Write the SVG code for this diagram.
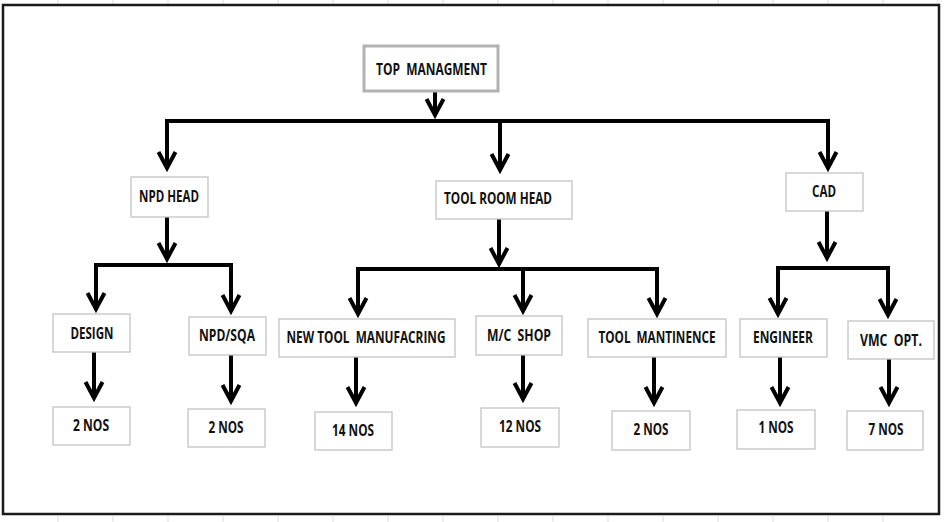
<svg xmlns="http://www.w3.org/2000/svg" width="944" height="522" viewBox="0 0 944 522">
<defs>
<style>
.bx{fill:#fff;stroke:#c4c4c4;stroke-width:1.3}
.bxt{fill:#fff;stroke:#b2b2b2;stroke-width:3}
.t{font-family:"Open Sans",Lato,"Liberation Sans",sans-serif;font-weight:bold;font-size:16px;fill:#111;text-anchor:middle;white-space:pre}
.ln{fill:none;stroke:#000;stroke-width:4;stroke-linecap:butt}
.bus{fill:none;stroke:#000;stroke-width:4;stroke-linejoin:miter}
.grid{fill:none;stroke:#dcdcdc;stroke-width:1}
</style>
<marker id="ah" markerUnits="userSpaceOnUse" markerWidth="40" markerHeight="40" viewBox="-20 -20 40 40" refX="0" refY="0" orient="auto" overflow="visible">
<path d="M-16,-8.5 L0,0 L-16,8.5" fill="none" stroke="#000" stroke-width="4" stroke-linejoin="miter" stroke-miterlimit="10"/>
</marker>
</defs>
<rect width="944" height="522" fill="#fff"/>
<path class="grid" d="M58,0V4M113,0V4M168,0V4M223,0V4M278,0V4M333,0V4M388,0V4M443,0V4M498,0V4M553,0V4M608,0V4M663,0V4M718,0V4M773,0V4M828,0V4M883,0V4M938,0V4M58,516V522M113,516V522M168,516V522M223,516V522M278,516V522M333,516V522M388,516V522M443,516V522M498,516V522M553,516V522M608,516V522M663,516V522M718,516V522M773,516V522M828,516V522M883,516V522"/>
<rect x="3" y="5" width="936" height="509" fill="#fff" stroke="#1a1a1a" stroke-width="2.5"/>
<g id="connectors">
<path class="ln" d="M435,92V115" marker-end="url(#ah)"/>
<path class="bus" d="M165,121H830" stroke-width="5"/>
<path class="ln" d="M167,119V168" marker-end="url(#ah)"/>
<path class="ln" d="M500,121V170" marker-end="url(#ah)"/>
<path class="ln" d="M828,119V168" marker-end="url(#ah)"/>
<path class="ln" d="M167,217V259" marker-end="url(#ah)"/>
<path class="bus" d="M96,310V265H231V310"/>
<path class="ln" d="M96,265V309" marker-end="url(#ah)"/>
<path class="ln" d="M231,265V311" marker-end="url(#ah)"/>
<path class="ln" d="M499,219V264" marker-end="url(#ah)"/>
<path class="bus" d="M358,310V269H657V310"/>
<path class="ln" d="M358,269V314" marker-end="url(#ah)"/>
<path class="ln" d="M523,269V311" marker-end="url(#ah)"/>
<path class="ln" d="M657,269V314" marker-end="url(#ah)"/>
<path class="ln" d="M827,211V258" marker-end="url(#ah)"/>
<path class="bus" d="M778,310V268H888V310"/>
<path class="ln" d="M778,268V314" marker-end="url(#ah)"/>
<path class="ln" d="M888,268V315" marker-end="url(#ah)"/>
<path class="ln" d="M94,352V398" marker-end="url(#ah)"/>
<path class="ln" d="M231,355V401" marker-end="url(#ah)"/>
<path class="ln" d="M356,357V403" marker-end="url(#ah)"/>
<path class="ln" d="M523,355V399" marker-end="url(#ah)"/>
<path class="ln" d="M654,357V403" marker-end="url(#ah)"/>
<path class="ln" d="M780,357V403" marker-end="url(#ah)"/>
<path class="ln" d="M889,359V403" marker-end="url(#ah)"/>
</g>
<g id="top"><rect class="bxt" x="364" y="46" width="134" height="45"/><text class="t" transform="scale(0.78,1)" x="553.2" y="75" textLength="142.3" lengthAdjust="spacingAndGlyphs" xml:space="preserve">TOP  MANAGMENT</text></g>
<g id="npd-head"><rect class="bx" x="131" y="177" width="77" height="40"/><text class="t" transform="scale(0.78,1)" x="216.7" y="202" textLength="76.9" lengthAdjust="spacingAndGlyphs">NPD HEAD</text></g>
<g id="tool-room-head"><rect class="bx" x="436" y="181" width="136" height="38"/><text class="t" transform="scale(0.78,1)" x="638.5" y="204" textLength="138.5" lengthAdjust="spacingAndGlyphs">TOOL ROOM HEAD</text></g>
<g id="cad"><rect class="bx" x="786" y="173" width="77" height="38"/><text class="t" transform="scale(0.78,1)" x="1056.4" y="197" textLength="30.8" lengthAdjust="spacingAndGlyphs">CAD</text></g>
<g id="design"><rect class="bx" x="53" y="314" width="77" height="38"/><text class="t" transform="scale(0.78,1)" x="117.9" y="339" textLength="55.1" lengthAdjust="spacingAndGlyphs">DESIGN</text></g>
<g id="npd-sqa"><rect class="bx" x="189" y="317" width="77" height="38"/><text class="t" transform="scale(0.78,1)" x="291" y="341" textLength="71.8" lengthAdjust="spacingAndGlyphs">NPD/SQA</text></g>
<g id="new-tool"><rect class="bx" x="279" y="319" width="176" height="38"/><text class="t" transform="scale(0.78,1)" x="469.2" y="343" textLength="203.8" lengthAdjust="spacingAndGlyphs" xml:space="preserve">NEW TOOL  MANUFACRING</text></g>
<g id="mc-shop"><rect class="bx" x="476" y="316" width="86" height="39"/><text class="t" transform="scale(0.78,1)" x="665.4" y="341" textLength="82.1" lengthAdjust="spacingAndGlyphs" xml:space="preserve">M/C  SHOP</text></g>
<g id="tool-mant"><rect class="bx" x="588" y="319" width="138" height="38"/><text class="t" transform="scale(0.78,1)" x="842.3" y="343" textLength="150" lengthAdjust="spacingAndGlyphs" xml:space="preserve">TOOL  MANTINENCE</text></g>
<g id="engineer"><rect class="bx" x="740" y="319" width="87" height="38"/><text class="t" transform="scale(0.78,1)" x="1003.8" y="343" textLength="76.9" lengthAdjust="spacingAndGlyphs">ENGINEER</text></g>
<g id="vmc-opt"><rect class="bx" x="848" y="321" width="86" height="38"/><text class="t" transform="scale(0.78,1)" x="1142.3" y="346" textLength="79.5" lengthAdjust="spacingAndGlyphs" xml:space="preserve">VMC  OPT.</text></g>
<g id="design-nos"><rect class="bx" x="53" y="407" width="77" height="38"/><text class="t" transform="scale(0.78,1)" x="116.7" y="431" textLength="46.2" lengthAdjust="spacingAndGlyphs">2 NOS</text></g>
<g id="npd-sqa-nos"><rect class="bx" x="188" y="409" width="77" height="38"/><text class="t" transform="scale(0.78,1)" x="289.7" y="433" textLength="44.9" lengthAdjust="spacingAndGlyphs">2 NOS</text></g>
<g id="new-tool-nos"><rect class="bx" x="315" y="412" width="77" height="38"/><text class="t" transform="scale(0.78,1)" x="452.6" y="436" textLength="53.8" lengthAdjust="spacingAndGlyphs">14 NOS</text></g>
<g id="mc-shop-nos"><rect class="bx" x="481" y="408" width="78" height="39"/><text class="t" transform="scale(0.78,1)" x="666.7" y="432" textLength="53.8" lengthAdjust="spacingAndGlyphs">12 NOS</text></g>
<g id="tool-mant-nos"><rect class="bx" x="612" y="411" width="78" height="39"/><text class="t" transform="scale(0.78,1)" x="834.6" y="435" textLength="44.9" lengthAdjust="spacingAndGlyphs">2 NOS</text></g>
<g id="engineer-nos"><rect class="bx" x="737" y="410" width="78" height="39"/><text class="t" transform="scale(0.78,1)" x="994.9" y="433" textLength="44.9" lengthAdjust="spacingAndGlyphs">1 NOS</text></g>
<g id="vmc-nos"><rect class="bx" x="847" y="411" width="76" height="39"/><text class="t" transform="scale(0.78,1)" x="1135.9" y="435" textLength="44.9" lengthAdjust="spacingAndGlyphs">7 NOS</text></g>
</svg>
